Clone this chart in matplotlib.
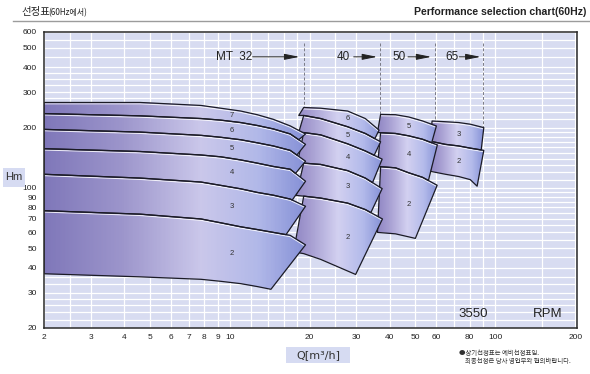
import numpy as np
import matplotlib
matplotlib.use("Agg")
import matplotlib.pyplot as plt
from matplotlib.patches import Polygon, Rectangle
from matplotlib.colors import LinearSegmentedColormap
from matplotlib.ticker import NullFormatter
from matplotlib import font_manager
import matplotlib.transforms as mtransforms

avail = {f.name for f in font_manager.fontManager.ttflist}
NARROW = 'Liberation Sans Narrow' if 'Liberation Sans Narrow' in avail else 'Liberation Sans'
SANS = 'Liberation Sans'
KR = ['Noto Sans CJK KR', 'DejaVu Sans']

# ---------------- data ----------------
q_ticks = [2, 3, 4, 5, 6, 7, 8, 9, 10, 20, 30, 40, 50, 60, 80, 100, 200]
h_ticks = [20, 30, 40, 50, 60, 70, 80, 90, 100, 200, 300, 400, 500, 600]

# MT32 (stages 7..2), curve "1" = lower limit of stage-2 band
mt32_q  = [2, 4.6, 7.8, 9.25, 11, 12.7, 14.6, 16.9, 19.3]
mt32_h7 = [267, 267, 258, 250, 242, 232, 220, 204, 186]
mt32_h6 = [235, 229, 222, 218, 212, 205, 197, 186, 165]
mt32_h5 = [196, 190, 183, 179, 174, 168, 162, 154, 136]
mt32_h4 = [157, 152, 146, 143, 138, 133, 128, 124, 108]
mt32_h3 = [117, 112, 107, 103, 99, 95, 92, 88, 81]
mt32_h2 = [77, 74, 70, 67, 64, 62, 60, 58, 52]
mt32_q1 = [2, 4.6, 7.8, 9.25, 11, 12.7, 14.3]
mt32_h1 = [37.3, 36, 35, 34.2, 33.3, 32.2, 31.2]
mt32_stages = [7, 6, 5, 4, 3, 2]
mt32_right_bot = [18.2, 17.9, 17.7, 17.2, 16.3, 14.3]

# MT40 (stages 6..2)
mt40_q  = [17.4, 19.0, 22, 27.8, 32.4, 37.6]
mt40_h6 = [252, 252, 250, 242, 222, 188]
mt40_h5 = [230, 230, 222, 202, 187, 168]
mt40_h4 = [190, 189, 184, 166, 153, 139]
mt40_h3 = [134, 133, 131, 122, 112, 99]
mt40_h2 = [92, 91, 89, 84, 78, 70]
mt40_q1 = [17.4, 19.0, 22, 27.8, 29.8]
mt40_h1 = [48, 47, 44, 38.5, 37]
mt40_stages = [6, 5, 4, 3, 2]
mt40_left_top = [19.0, 19.0, 19.0, 19.0, 19.0]
mt40_left_bot = [18.2, 18.2, 18.0, 17.8, 17.4]
mt40_right_top = [36.5, 37.0, 37.5, 37.5, 37.6]
mt40_right_bot = [35.2, 35.0, 34.5, 34.0, 29.8]

# MT50 (stages 5, 4, 2)
mt50_q  = [36, 42.1, 47.2, 53.2, 60.5]
mt50_h5 = [233, 232, 226, 216, 203]
mt50_h4 = [189, 187, 182, 175, 164]
mt50_h2 = [128, 126, 119, 113, 103]
mt50_q1 = [36, 42.1, 47.2, 50]
mt50_h1 = [60, 59, 57, 56]
mt50_stages = [5, 4, 2]
mt50_left_top = [37.0, 37.0, 37.0]
mt50_left_bot = [36.0, 36.0, 36.0]
mt50_right_top = [60.0, 60.5, 60.4]
mt50_right_bot = [57.6, 56.0, 50.0]

# MT65 (stages 3, 2)
mt65_q  = [57.0, 64.9, 72.8, 80.5, 90.5]
mt65_h3 = [216, 214, 212, 208, 200]
mt65_h2 = [171, 165, 162, 158, 154]
mt65_q1 = [57.0, 64.9, 72.8, 80.5, 85.4]
mt65_h1 = [121, 117, 114, 110, 102]
mt65_stages = [3, 2]
mt65_left_top = [57.8, 57.8]
mt65_left_bot = [57.0, 57.0]
mt65_right_top = [90.5, 90.5]
mt65_right_bot = [88.5, 85.4]

model_names = ['MT  32', '40', '50', '65']
divider_q = [19.0, 36.7, 59.2, 90.0]
divider_end_h = [245, 232, 210, 202]
rpm_value = '3550'

# ---------------- figure ----------------
W, H = 590, 374
fig = plt.figure(figsize=(W / 100, H / 100), dpi=100)
fig.patch.set_facecolor('white')
ax = fig.add_axes([44 / W, 1 - 328 / H, (577 - 44) / W, (328 - 32) / H])
ax.set_xscale('log')
ax.set_yscale('log')
ax.set_xlim(2, 203)
ax.set_ylim(20, 600)
ax.set_facecolor('#d8dcf1')

q_grid = [2.5, 3, 4, 5, 6, 7, 8, 9, 10, 12, 14, 16, 18, 20, 25, 30, 40, 50, 60, 70, 80, 90, 100, 150]
h_grid = [22, 24, 26, 28, 30, 33, 36, 40, 45, 50, 55, 60, 65, 70, 75, 80, 85, 90, 95, 100,
          110, 120, 130, 140, 150, 160, 170, 180, 190, 200, 220, 240, 260, 280, 300,
          325, 350, 375, 400, 450, 500, 550]
ax.set_xticks(q_ticks)
ax.set_xticklabels([str(v) for v in q_ticks], family=NARROW)
ax.set_yticks(h_ticks)
ax.set_yticklabels([str(v) for v in h_ticks], family=NARROW)
ax.set_xticks(q_grid, minor=True)
ax.set_yticks(h_grid, minor=True)
ax.xaxis.set_minor_formatter(NullFormatter())
ax.yaxis.set_minor_formatter(NullFormatter())
ax.tick_params(which='both', length=0)
ax.tick_params(axis='x', pad=4, labelsize=6, labelcolor='#222')
ax.tick_params(axis='y', pad=5, labelsize=6, labelcolor='#222')
ax.grid(which='both', color='white', lw=0.9)
ax.set_axisbelow(True)
for s in ax.spines.values():
    s.set_color('#2a2a2a')
    s.set_linewidth(1.1)
    s.set_zorder(20)

cm32 = LinearSegmentedColormap.from_list('c32', [(0, '#7f77b9'), (0.3, '#9c95cb'), (0.6, '#cac7ea'),
                                                  (0.82, '#b1b8e8'), (1, '#8590d6')])
cmo = LinearSegmentedColormap.from_list('co', [(0, '#8f85c3'), (0.2, '#a79fd2'), (0.5, '#d2d0f0'),
                                                (0.78, '#b3baea'), (1, '#8591d6')])


def logi(q, qs, hs):
    return np.exp(np.interp(np.log(q), np.log(qs), np.log(hs)))


def segment(qs, hs, qa, qb):
    qs = np.asarray(qs, float)
    inner = qs[(qs > qa) & (qs < qb)]
    xq = np.concatenate([[qa], inner, [qb]])
    return xq, logi(xq, qs, np.asarray(hs, float))


off = mtransforms.offset_copy(ax.transData, fig=fig, x=0, y=-1.4, units='dots')


def draw_group(curves, stages, left_top, left_bot, right_top, right_bot, label_q, cmap, z):
    allq = np.concatenate([np.asarray(c[0], float) for c in curves.values()])
    allh = np.concatenate([np.asarray(c[1], float) for c in curves.values()])
    qlo, qhi = allq.min(), allq.max()
    gx = np.geomspace(qlo, qhi, 200)
    gy = np.array([allh.min() * 0.8, allh.max() * 1.2])
    X, Y = np.meshgrid(gx, gy)
    cc = (np.log(np.sqrt(gx[:-1] * gx[1:])) - np.log(qlo)) / (np.log(qhi) - np.log(qlo))
    for i, n in enumerate(stages):
        below = stages[i + 1] if i + 1 < len(stages) else 1
        tq, th = curves[n]
        bq, bh = curves[below]
        sq, sh = segment(tq, th, left_top[i], right_top[i])
        uq, uh = segment(bq, bh, left_bot[i], right_bot[i])
        verts = np.column_stack([np.concatenate([sq, uq[::-1]]), np.concatenate([sh, uh[::-1]])])
        poly = Polygon(verts, closed=True, facecolor='none', edgecolor='#1b1b26', lw=0.9,
                       joinstyle='round', zorder=z + 0.3)
        ax.add_patch(poly)
        mesh = ax.pcolormesh(X, Y, cc[None, :], cmap=cmap, vmin=0, vmax=1, shading='flat',
                             zorder=z, edgecolors='none', antialiased=False)
        mesh.set_clip_path(poly)
        hl, = ax.plot(sq, sh, color='white', lw=0.7, alpha=0.85, transform=off, zorder=z + 0.2)
        hl.set_clip_path(poly)
        ht = logi(label_q, tq, th)
        hb = logi(label_q, bq, bh)
        ax.text(label_q, np.sqrt(ht * hb), str(n), fontsize=5.5, color='#333', ha='center',
                va='center', zorder=z + 0.5, family=SANS)


# dashed dividers
for qd, he in zip(divider_q, divider_end_h):
    ax.plot([qd, qd], [530, he], ls=(0, (3, 2)), color='#7a7a86', lw=0.7, zorder=1.5)

draw_group({3: (mt65_q, mt65_h3), 2: (mt65_q, mt65_h2), 1: (mt65_q1, mt65_h1)},
           mt65_stages, mt65_left_top, mt65_left_bot, mt65_right_top, mt65_right_bot, 72.8, cmo, 2)
draw_group({5: (mt50_q, mt50_h5), 4: (mt50_q, mt50_h4), 2: (mt50_q, mt50_h2), 1: (mt50_q1, mt50_h1)},
           mt50_stages, mt50_left_top, mt50_left_bot, mt50_right_top, mt50_right_bot, 47.2, cmo, 3)
draw_group({6: (mt40_q, mt40_h6), 5: (mt40_q, mt40_h5), 4: (mt40_q, mt40_h4), 3: (mt40_q, mt40_h3),
            2: (mt40_q, mt40_h2), 1: (mt40_q1, mt40_h1)},
           mt40_stages, mt40_left_top, mt40_left_bot, mt40_right_top, mt40_right_bot, 27.8, cmo, 4)
n32 = len(mt32_stages)
draw_group({7: (mt32_q, mt32_h7), 6: (mt32_q, mt32_h6), 5: (mt32_q, mt32_h5), 4: (mt32_q, mt32_h4),
            3: (mt32_q, mt32_h3), 2: (mt32_q, mt32_h2), 1: (mt32_q1, mt32_h1)},
           mt32_stages, [2.0] * n32, [2.0] * n32, [mt32_q[-1]] * n32, mt32_right_bot, 10.2, cm32, 5)

# model labels with arrows
name_pos = [(10.35, 12.2, 18.3), (26.7, 29.3, 35.9), (43.4, 46.9, 57.4), (68.9, 73.2, 88.0)]
for name, (qt, qa, qb) in zip(model_names, name_pos):
    ax.text(qt, 451, name, fontsize=8.5, ha='center', va='center', color='#222', family=SANS, zorder=6)
    ax.annotate('', xy=(qb, 451), xytext=(qa, 451),
                arrowprops=dict(arrowstyle='-|>,head_length=0.9,head_width=0.18', color='#222',
                                lw=0.7, shrinkA=0, shrinkB=0), zorder=6)

ax.text(82.7, 23.4, rpm_value, fontsize=9.5, ha='center', va='center', color='#222', family=SANS, zorder=6)
ax.text(158, 23.4, 'RPM', fontsize=9.5, ha='center', va='center', color='#222', family=SANS, zorder=6)

# ---------------- outer decorations ----------------
def fx(px):
    return px / W


def fy(py):
    return 1 - py / H


fig.text(fx(21), fy(12), '선정표', fontsize=7.5, family=KR, va='center', ha='left', color='#222')
fig.text(fx(48.5), fy(12.5), '(60Hz에서)', fontsize=5.8, family=KR, va='center', ha='left', color='#222')
fig.text(fx(586), fy(12), 'Performance selection chart(60Hz)', fontsize=7.6, family=SANS,
         weight='bold', va='center', ha='right', color='#222')
fig.add_artist(plt.Line2D([fx(13), fx(590)], [fy(20.5), fy(20.5)], color='#9c9c9c', lw=1.0))

fig.add_artist(Rectangle((fx(3), fy(187)), (25 - 3) / W, (187 - 168) / H, facecolor='#d6dbf2',
                         edgecolor='none', transform=fig.transFigure))
fig.text(fx(14), fy(177.5), 'Hm', fontsize=8, family=SANS, ha='center', va='center', color='#333')

fig.add_artist(Rectangle((fx(286), fy(363)), (350 - 286) / W, (363 - 347) / H, facecolor='#d6dbf2',
                         edgecolor='none', transform=fig.transFigure))
fig.text(fx(318), fy(355), 'Q[m³/h]', fontsize=8, family='DejaVu Sans', ha='center', va='center', color='#333')

fig.text(fx(459), fy(352.5), '●상기선정표는 예비선정표임.', fontsize=4.6, family=KR, ha='left', va='center', color='#333')
fig.text(fx(465), fy(361.5), '최종선정은 당사 영업부와 협의바랍니다.', fontsize=4.6, family=KR, ha='left', va='center', color='#333')

fig.savefig('out.png', dpi=100)
